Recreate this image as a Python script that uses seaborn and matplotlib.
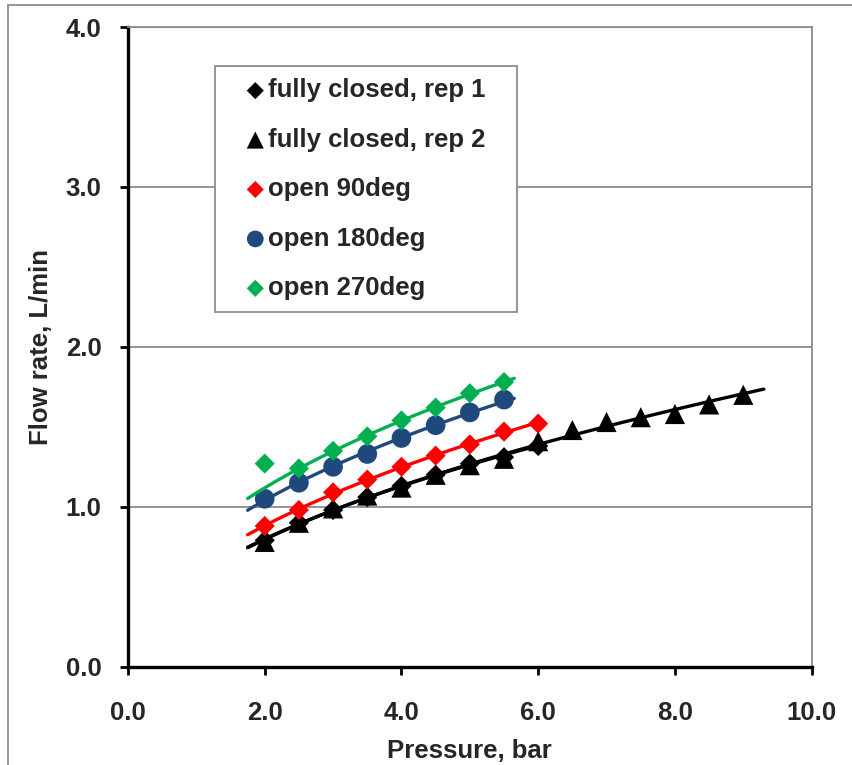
import numpy as np
import pandas as pd
import matplotlib
matplotlib.use("Agg")
import matplotlib.pyplot as plt
import matplotlib.patches as mpatches
import seaborn as sns

# pressure (bar) and flow rate (L/min)
rep1_p = [2.0, 2.5, 3.0, 3.5, 4.0, 4.5, 5.0, 5.5, 6.0]
rep1_q = [0.79, 0.90, 0.98, 1.06, 1.13, 1.20, 1.27, 1.31, 1.38]

rep2_p = [2.0, 2.5, 3.0, 3.5, 4.0, 4.5, 5.0, 5.5, 6.0, 6.5, 7.0, 7.5, 8.0, 8.5, 9.0]
rep2_q = [0.78, 0.90, 0.99, 1.07, 1.12, 1.20, 1.26, 1.30, 1.41, 1.48, 1.53, 1.56, 1.58, 1.64, 1.70]

open90_p = [2.0, 2.5, 3.0, 3.5, 4.0, 4.5, 5.0, 5.5, 6.0]
open90_q = [0.88, 0.98, 1.09, 1.17, 1.25, 1.32, 1.39, 1.47, 1.52]

open180_p = [2.0, 2.5, 3.0, 3.5, 4.0, 4.5, 5.0, 5.5]
open180_q = [1.05, 1.15, 1.25, 1.33, 1.43, 1.51, 1.59, 1.67]

open270_p = [2.0, 2.5, 3.0, 3.5, 4.0, 4.5, 5.0, 5.5]
open270_q = [1.27, 1.24, 1.35, 1.44, 1.54, 1.62, 1.71, 1.78]

labels = ["fully closed, rep 1", "fully closed, rep 2", "open 90deg", "open 180deg", "open 270deg"]
colors = ["black", "black", "#FF0000", "#1F497D", "#00B050"]
markers = ["D", "^", "D", "o", "D"]
sizes = [105, 210, 105, 200, 105]

series = [(rep1_p, rep1_q), (rep2_p, rep2_q), (open90_p, open90_q),
          (open180_p, open180_q), (open270_p, open270_q)]
# first 270deg point sits well above its trend line, left out of the fit
fit_skip = [0, 0, 0, 0, 1]
# trend line span (bar)
fit_from = [1.75, 1.75, 1.75, 1.75, 1.75]
fit_to = [6.0, 9.3, 6.0, 5.65, 5.65]

sns.set_style("white")
plt.rcParams["font.family"] = ["Liberation Sans", "DejaVu Sans"]
plt.rcParams["font.weight"] = "bold"

fig = plt.figure(figsize=(8.52, 7.65), dpi=100)
ax = fig.add_axes([0.1502, 0.1285, 0.8025, 0.8362])

for (p, q), lab, c, m, s, skip, x0, x1 in zip(series, labels, colors, markers,
                                               sizes, fit_skip, fit_from, fit_to):
    df = pd.DataFrame({"p": p, "q": q})
    sns.scatterplot(data=df, x="p", y="q", marker=m, s=s, color=c,
                    edgecolor="none", linewidth=0, label=lab, ax=ax, zorder=3)
    # power trend line
    fit = df.iloc[skip:]
    b, log_a = np.polyfit(np.log(fit["p"]), np.log(fit["q"]), 1)
    xs = np.linspace(x0, x1, 100)
    trend = pd.DataFrame({"p": xs, "q": np.exp(log_a) * xs ** b})
    sns.lineplot(data=trend, x="p", y="q", color=c, linewidth=2.4,
                 ax=ax, zorder=4, legend=False)

ax.set_xlim(0, 10)
ax.set_ylim(0, 4)
ax.set_xticks(np.arange(0, 10.1, 2))
ax.set_yticks(np.arange(0, 4.1, 1))
ax.set_xticklabels([f"{v:.1f}" for v in np.arange(0, 10.1, 2)])
ax.set_yticklabels([f"{v:.1f}" for v in np.arange(0, 4.1, 1)])
ax.tick_params(axis="both", labelsize=18.5, direction="out", length=6, width=2,
               color="black", left=True, bottom=True)
ax.tick_params(axis="x", pad=19)
ax.tick_params(axis="y", pad=13)
for t in ax.get_xticklabels() + ax.get_yticklabels():
    t.set_fontweight("bold")

ax.yaxis.grid(True, color="#8C8C8C", linewidth=1.3)
ax.xaxis.grid(False)
ax.set_axisbelow(True)
for side in ["left", "bottom"]:
    ax.spines[side].set_color("black")
    ax.spines[side].set_linewidth(2.4)
for side in ["top", "right"]:
    ax.spines[side].set_color("#8C8C8C")
    ax.spines[side].set_linewidth(1.3)

ax.set_xlabel("Pressure, bar", fontsize=18.5, fontweight="bold", labelpad=10)
ax.set_ylabel("Flow rate, L/min", fontsize=18.5, fontweight="bold", labelpad=9)

leg = ax.legend(loc="upper left", bbox_to_anchor=(0.1272, 0.939, 0.4417, 0.0),
                mode="expand", fontsize=18.5,
                frameon=True, fancybox=False, edgecolor="#8C8C8C", framealpha=1,
                handletextpad=-0.6, labelspacing=0.99, borderpad=0.48,
                markerscale=0.85, handlelength=2.18, borderaxespad=0)
leg.get_frame().set_linewidth(1.3)
for t in leg.get_texts():
    t.set_fontweight("bold")

# outer chart-area border
fig.patches.append(mpatches.Rectangle((8 / 852, -0.1), 1.2, 1.1 - 5 / 765,
                                      transform=fig.transFigure, fill=False,
                                      edgecolor="#8C8C8C", linewidth=1.3))

fig.savefig("out.png", dpi=100)
